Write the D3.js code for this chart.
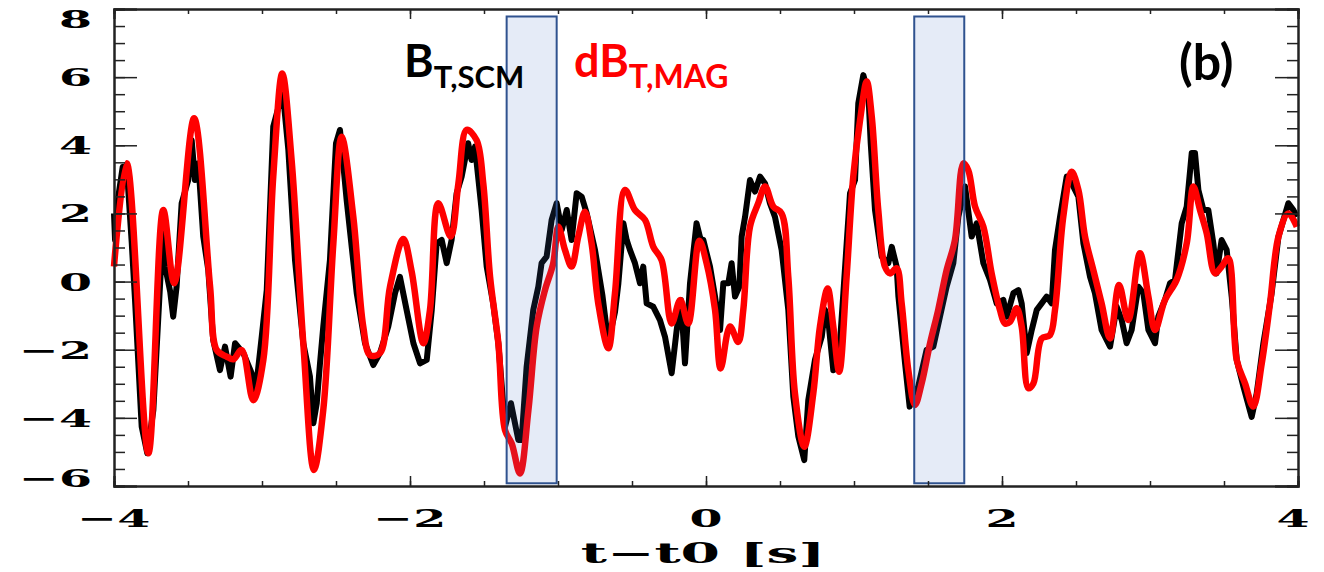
<!DOCTYPE html>
<html>
<head>
<meta charset="utf-8">
<script src="https://cdn.jsdelivr.net/npm/d3@7"></script>
<style>
  body { margin: 0; background: #fff; }
  .tick-label { font-family: "DejaVu Serif", serif; font-weight: bold; font-size: 25px; }
  .legend { font-family: Lato, "Open Sans", sans-serif; font-weight: bold; }
</style>
</head>
<body>
<svg id="chart" width="1324" height="572"></svg>
<script>
// B_T from search coil (black, noisy)
var scmTime = [-4.00,-3.993,-3.971,-3.941,-3.914,-3.88,-3.858,-3.813,-3.775,-3.734,-3.684,-3.671,-3.655,-3.62,-3.60,-3.577,-3.543,
  -3.498,-3.475,-3.453,-3.43,-3.397,-3.363,-3.33,-3.284,-3.25,-3.212,-3.182,-3.126,-3.07,-3.047,-3.002,-2.968,-2.924,-2.86,
  -2.822,-2.777,-2.721,-2.676,-2.653,-2.63,-2.608,-2.586,-2.541,-2.50,-2.473,-2.428,-2.36,-2.304,-2.248,-2.203,-2.147,-2.101,
  -2.068,-2.023,-1.977,-1.932,-1.887,-1.853,-1.82,-1.786,-1.752,-1.719,-1.685,-1.651,-1.607,-1.584,-1.561,-1.516,-1.482,-1.438,
  -1.403,-1.358,-1.318,-1.268,-1.246,-1.212,-1.167,-1.133,-1.111,-1.077,-1.043,-1.009,-0.975,-0.941,-0.908,-0.874,-0.84,-0.806,
  -0.75,-0.70,-0.66,-0.615,-0.592,-0.558,-0.536,-0.514,-0.48,-0.446,-0.424,-0.401,-0.356,-0.311,-0.277,-0.232,-0.198,-0.169,
  -0.142,-0.108,-0.064,-0.03,-0.018,0.027,0.061,0.095,0.117,0.151,0.173,0.196,0.225,0.241,0.264,0.297,0.331,0.365,0.399,0.432,
  0.466,0.511,0.556,0.59,0.624,0.664,0.691,0.736,0.782,0.804,0.826,0.86,0.894,0.928,0.973,1.007,1.029,1.063,1.097,1.113,1.142,
  1.187,1.232,1.255,1.288,1.30,1.345,1.376,1.434,1.49,1.536,1.581,1.626,1.671,1.705,1.75,1.795,1.829,1.874,1.919,1.964,2.009,
  2.032,2.077,2.111,2.133,2.167,2.201,2.235,2.268,2.302,2.336,2.358,2.392,2.437,2.471,2.516,2.55,2.595,2.628,2.673,2.73,2.775,
  2.809,2.842,2.876,2.921,2.955,2.989,3.034,3.056,3.101,3.135,3.169,3.214,3.248,3.282,3.304,3.327,3.361,3.394,3.428,3.45,3.484,
  3.518,3.552,3.586,3.631,3.687,3.721,3.766,3.822,3.868,3.935,3.969,3.992];
var scmValue = [2.0,1.22,2.49,3.37,3.37,1.12,-0.54,-4.26,-5.04,-3.77,0.3,1.75,0.45,-0.3,-1.03,-0.15,2.30,
  2.98,4.15,2.98,3.47,1.32,0.34,-1.71,-2.6,-1.91,-2.79,-1.81,-2.1,-2.69,-3.38,-1.62,-0.25,4.55,5.58,
  3.86,0.63,-1.81,-2.79,-4.16,-3.57,-2.40,-1.32,0.63,4.06,4.45,2.39,-0.34,-1.81,-2.45,-2.10,-1.32,-0.34,
  0.14,-0.83,-1.81,-2.40,-2.30,-0.83,1.12,1.22,0.54,1.22,2.59,3.08,4.06,3.57,3.96,2.10,0.44,-0.64,
  -1.81,-4.26,-3.57,-4.65,-4.65,-2.5,-0.83,-0.15,0.54,0.73,1.81,2.30,1.51,2.10,1.22,2.59,2.49,2.0,
  0.93,-0.4,-1.8,-0.9,-0.05,1.71,1.22,0.93,0.54,-0.05,0.44,-0.64,-0.74,-1.13,-1.62,-2.69,-1.42,-0.54,
  -2.40,-0.05,1.71,1.12,1.22,0.44,-0.44,-1.42,-0.05,-0.05,0.54,-0.44,-0.15,1.32,1.90,2.98,2.64,3.08,2.88,2.30,
  1.90,0.93,-0.83,-3.38,-4.55,-5.24,-3.48,-2.30,-1.62,-0.83,-1.13,-2.60,-2.5,-0.34,2.59,2.98,5.23,6.06,5.52,4.06,2.10,
  0.73,0.54,1.02,0.44,-0.44,-2.40,-3.67,-3.08,-2.01,-1.91,-1.03,-0.15,0.54,1.90,2.79,1.32,1.71,0.54,0.05,-0.64,-0.54,
  -1.03,-0.34,-0.25,-0.64,-2.10,-1.42,-0.83,-0.64,-0.44,-0.64,0.93,1.90,3.08,2.88,2.49,1.12,0.14,-0.34,-1.42,-1.91,-0.74,
  -1.13,-1.81,-1.42,-0.15,-0.34,-1.42,-1.81,-1.03,-0.54,-0.05,0.05,1.71,2.20,3.77,3.77,2.69,2.10,2.10,1.12,0.24,1.22,
  0.93,-0.44,-2.30,-3.08,-3.97,-3.28,-1.81,-0.34,1.32,2.30,2.10,1.90];

// dB_T from magnetometer (red, smooth)
var magTime = [-4.00,-3.914,-3.768,-3.667,-3.593,-3.459,-3.351,-3.306,-3.239,-3.194,-3.137,-3.059,-2.991,-2.924,-2.863,-2.80,
  -2.721,-2.649,-2.586,-2.518,-2.462,-2.383,-2.316,-2.27,-2.203,-2.135,-2.045,-1.989,-1.91,-1.865,-1.809,-1.725,-1.673,-1.617,
  -1.55,-1.505,-1.459,-1.403,-1.358,-1.313,-1.257,-1.20,-1.144,-1.088,-1.032,-0.998,-0.953,-0.908,-0.863,-0.818,-0.773,-0.728,
  -0.66,-0.615,-0.547,-0.48,-0.412,-0.356,-0.30,-0.232,-0.174,-0.12,-0.045,0.004,0.061,0.099,0.162,0.218,0.252,0.297,0.353,
  0.399,0.455,0.511,0.556,0.601,0.664,0.725,0.77,0.822,0.86,0.90,0.95,0.995,1.041,1.086,1.12,1.164,1.209,1.243,1.288,1.322,
  1.367,1.412,1.457,1.514,1.569,1.626,1.682,1.739,1.772,1.818,1.874,1.93,1.986,2.02,2.054,2.099,2.133,2.178,2.212,2.268,2.324,
  2.358,2.414,2.471,2.516,2.561,2.617,2.673,2.73,2.791,2.853,2.932,2.989,3.034,3.101,3.18,3.248,3.293,3.338,3.383,3.439,3.484,
  3.529,3.586,3.642,3.698,3.755,3.811,3.868,3.935,3.992];
var magValue = [0.44,3.47,-5.04,2.1,-0.05,4.79,-0.14,-2.01,-2.2,-2.28,-2.01,-3.48,-2.30,3.08,6.11,3.57,
  -1.81,-5.53,-3.77,1.12,4.25,1.9,-1.32,-2.16,-2.1,-0.15,1.25,0.3,-1.81,-0.83,2.30,1.32,2.88,4.45,
  4.15,2.88,0.14,-1.81,-4.36,-4.75,-5.63,-3.77,-1.32,-0.25,0.54,1.61,0.93,0.44,1.32,2.05,1.12,-0.64,
  -1.96,-0.34,2.69,2.10,1.81,1.02,0.63,-1.23,-0.54,-1.23,1.2,0.54,-0.83,-2.55,-1.32,-1.77,-0.83,1.61,2.30,
  2.79,2.2,2.0,0.14,-3.28,-4.85,-3.28,-1.32,-0.20,-1.32,-2.65,0.14,3.08,4.74,5.87,4.84,2.10,0.44,0.24,0.39,-0.64,
  -2.60,-3.62,-2.99,-1.81,-0.83,0.34,1.22,3.47,3.27,2.2,1.61,0.24,-0.83,-1.23,-1.18,-0.78,-1.32,-3.13,-2.99,-1.67,-1.57,
  -0.83,1.90,3.22,2.69,1.32,0.34,-0.64,-1.67,-0.10,-1.13,0.83,-0.44,-1.42,-0.54,0.05,1.12,2.79,2.10,1.42,0.24,0.44,
  0.68,-2.30,-2.99,-3.67,-2.40,-0.64,1.32,2.0,1.61];

// highlighted time windows [start, end]
var windowStart = [-1.347, 1.407];
var windowEnd = [-1.009, 1.745];

var xMajor = [-4, -2, 0, 2, 4];
var yMajor = [-6, -4, -2, 0, 2, 4, 6, 8];

var svg = d3.select("#chart"),
    plotLeft = 114, plotRight = 1298, plotTop = 9, plotBottom = 486;

var x = d3.scaleLinear().domain([-4, 4]).range([plotLeft, plotRight]);
var y = d3.scaleLinear().domain([-6, 8]).range([plotBottom, plotTop]);

var scm = scmTime.map(function (t, i) { return [t, scmValue[i]]; });
var mag = magTime.map(function (t, i) { return [t, magValue[i]]; });

var g = svg.append("g");

// black trace
g.append("path")
    .datum(scm)
    .attr("fill", "none")
    .attr("stroke", "#000")
    .attr("stroke-width", 6)
    .attr("stroke-linejoin", "round")
    .attr("d", d3.line().x(function (d) { return x(d[0]); }).y(function (d) { return y(d[1]); }));

// red trace
g.append("path")
    .datum(mag)
    .attr("fill", "none")
    .attr("stroke", "#ff0000")
    .attr("stroke-width", 6.5)
    .attr("stroke-linejoin", "round")
    .attr("d", d3.line().curve(d3.curveCatmullRom.alpha(0.5))
        .x(function (d) { return x(d[0]); }).y(function (d) { return y(d[1]); }));

// shaded windows on top, see-through
g.selectAll("rect.win")
    .data(windowStart)
    .enter().append("rect")
    .attr("class", "win")
    .attr("x", function (d) { return x(d); })
    .attr("width", function (d, i) { return x(windowEnd[i]) - x(d); })
    .attr("y", y(7.78))
    .attr("height", y(-5.92) - y(7.78))
    .attr("fill", "#4472c4")
    .attr("fill-opacity", 0.14)
    .attr("stroke", "#2f528f")
    .attr("stroke-width", 2);

// frame axes with inward ticks (IDL style)
var xMinor = d3.range(-4, 4.01, 0.5);
var yMinor = d3.range(-6, 8.01, 0.5);

svg.append("g").attr("transform", "translate(0," + plotBottom + ")")
    .call(d3.axisTop(x).tickValues(xMinor).tickFormat("").tickSize(5));
svg.append("g").attr("transform", "translate(0," + plotBottom + ")")
    .call(d3.axisTop(x).tickValues(xMajor).tickFormat("").tickSize(10));
svg.append("g").attr("transform", "translate(0," + plotTop + ")")
    .call(d3.axisBottom(x).tickValues(xMinor).tickFormat("").tickSize(5));
svg.append("g").attr("transform", "translate(0," + plotTop + ")")
    .call(d3.axisBottom(x).tickValues(xMajor).tickFormat("").tickSize(10));
svg.append("g").attr("transform", "translate(" + plotLeft + ",0)")
    .call(d3.axisRight(y).tickValues(yMinor).tickFormat("").tickSize(11));
svg.append("g").attr("transform", "translate(" + plotLeft + ",0)")
    .call(d3.axisRight(y).tickValues(yMajor).tickFormat("").tickSize(23));
svg.append("g").attr("transform", "translate(" + plotRight + ",0)")
    .call(d3.axisLeft(y).tickValues(yMinor).tickFormat("").tickSize(11));
svg.append("g").attr("transform", "translate(" + plotRight + ",0)")
    .call(d3.axisLeft(y).tickValues(yMajor).tickFormat("").tickSize(23));

svg.selectAll(".domain").attr("stroke", "#222").attr("stroke-width", 2);
svg.selectAll(".tick line").attr("stroke", "#222").attr("stroke-width", 1.5);

function fmt(v) { return v < 0 ? "\u2212" + Math.abs(v) : String(v); }

// y tick labels, stretched like the IDL font
svg.append("g").selectAll("text")
    .data(yMajor)
    .enter().append("text")
    .attr("class", "tick-label")
    .attr("text-anchor", "end")
    .attr("transform", function (d) {
        var yy = Math.max(19, Math.min(478, y(d)));
        return "translate(92," + (yy + 9) + ") scale(1.9,1)";
    })
    .text(fmt);

// x tick labels
svg.append("g").selectAll("text")
    .data(xMajor)
    .enter().append("text")
    .attr("class", "tick-label")
    .attr("text-anchor", "middle")
    .attr("transform", function (d) {
        var xx = Math.min(1293, x(d));
        return "translate(" + xx + ",527) scale(1.9,1)";
    })
    .text(fmt);

// x axis title
svg.append("text")
    .attr("class", "tick-label")
    .attr("text-anchor", "middle")
    .attr("transform", "translate(703,563) scale(2.1,1)")
    .style("font-size", "27px")
    .text("t\u2212t0 [s]");

// legend
var l1 = svg.append("text").attr("class", "legend").attr("x", 404).attr("y", 77).attr("fill", "#000");
l1.append("tspan").style("font-size", "45px").text("B");
l1.append("tspan").style("font-size", "31px").attr("dy", 11).text("T,SCM");

var l2 = svg.append("text").attr("class", "legend").attr("x", 574).attr("y", 77).attr("fill", "#ff0000");
l2.append("tspan").style("font-size", "45px").text("dB");
l2.append("tspan").style("font-size", "32px").attr("dy", 11).text("T,MAG");

svg.append("text").attr("class", "legend")
    .attr("x", 1179).attr("y", 80)
    .style("font-size", "50px")
    .text("(b)");
</script>
</body>
</html>
